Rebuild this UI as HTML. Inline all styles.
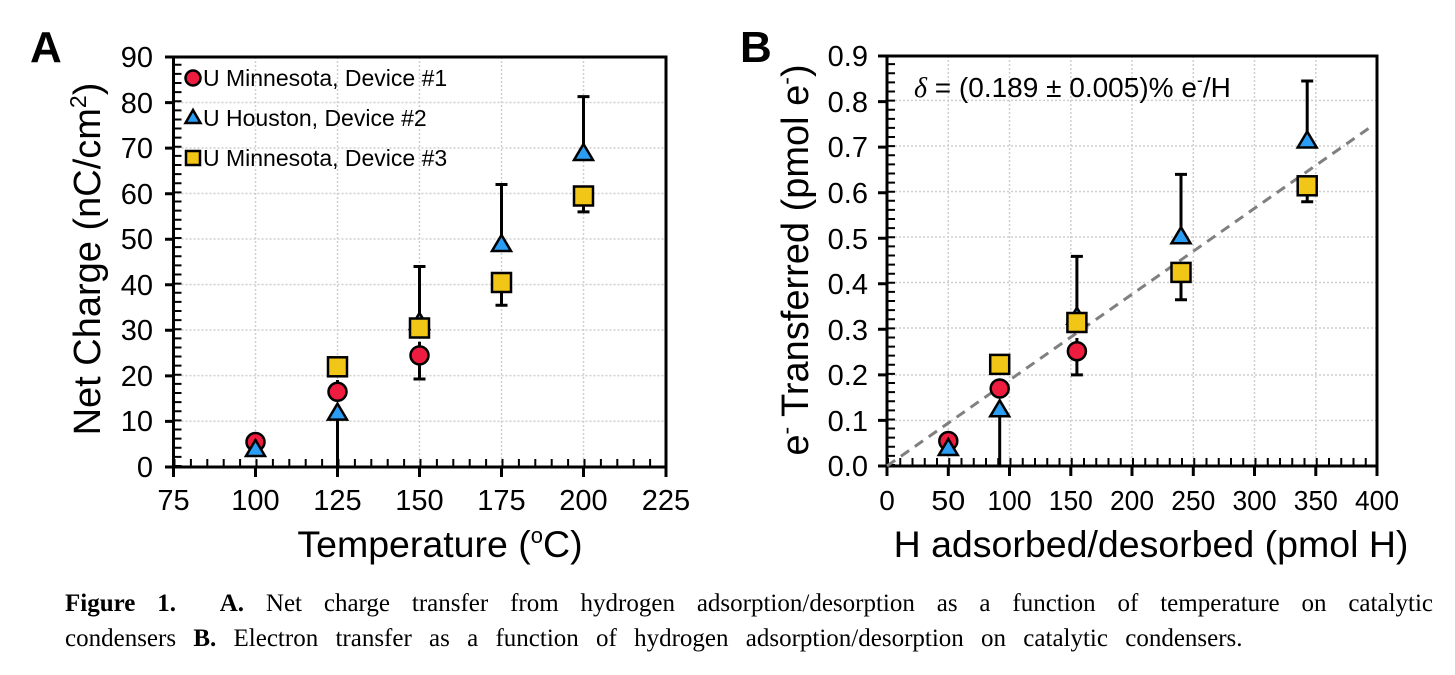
<!DOCTYPE html>
<html><head><meta charset="utf-8"><style>
body{margin:0;background:#fff;width:1455px;height:675px;overflow:hidden}
svg{position:absolute;left:0;top:0}
.cap{position:absolute;left:65px;width:1368px;font-family:"Liberation Serif",serif;font-size:25px;color:#000;white-space:nowrap}
.l1{top:590px;text-align:justify;text-align-last:justify;white-space:normal}
.l2{top:625px;word-spacing:11px}
</style></head><body>
<svg width="1455" height="675" font-family="Liberation Sans, sans-serif">
<g stroke="#cfcfcf" stroke-width="1.5" stroke-dasharray="2 2">
<path d="M255.5 57V467M337.5 57V467M419.5 57V467M501.5 57V467M583.5 57V467"/>
<path d="M173.5 102.5H666M173.5 148H666M173.5 193.5H666M173.5 239H666M173.5 284.5H666M173.5 330H666M173.5 375.6H666M173.5 421.2H666"/>
</g>
<g stroke="#000">
<rect x="173.5" y="57" width="492.5" height="410" fill="none" stroke-width="3"/>
<line x1="177.5" y1="467" x2="177.5" y2="57" stroke-width="8" stroke-dasharray="2 7.12"/>
<line x1="173.5" y1="463" x2="666" y2="463" stroke-width="8" stroke-dasharray="2 14.4"/>
<path stroke-width="3" d="M165 467H173.5M165 421.4H173.5M165 375.9H173.5M165 330.3H173.5M165 284.8H173.5M165 239.2H173.5M165 193.7H173.5M165 148.1H173.5M165 102.6H173.5M165 57H173.5"/>
<path stroke-width="3" d="M173.5 467V477M255.5 467V477M337.5 467V477M419.5 467V477M501.5 467V477M583.5 467V477M666 467V477"/>
</g>
<g font-size="29" text-anchor="end">
<text x="153" y="477">0</text><text x="153" y="431">10</text><text x="153" y="386">20</text><text x="153" y="340">30</text><text x="153" y="295">40</text><text x="153" y="249">50</text><text x="153" y="204">60</text><text x="153" y="158">70</text><text x="153" y="113">80</text><text x="153" y="67">90</text>
</g>
<g font-size="29" text-anchor="middle">
<text x="173.5" y="510">75</text><text x="255.5" y="510">100</text><text x="337.5" y="510">125</text><text x="419.5" y="510">150</text><text x="501.5" y="510">175</text><text x="583.5" y="510">200</text><text x="666" y="510">225</text>
</g>
<text x="440" y="557" font-size="37.5" text-anchor="middle">Temperature (<tspan font-size="22" dy="-14">o</tspan><tspan dy="14">C)</tspan></text>
<text transform="translate(100,259) rotate(-90)" font-size="38" text-anchor="middle">Net Charge (nC/cm<tspan font-size="23" dy="-14">2</tspan><tspan dy="14">)</tspan></text>
<text x="30" y="62" font-size="44" font-weight="bold">A</text>
<g stroke="#000" stroke-width="3">
<path d="M419.5 379V341.7M413.5 379H425.5"/>
<path d="M337.5 414.6V467"/>
<path d="M419.5 321V266.5M413.5 266.5H425.5"/>
<path d="M501.5 246V184.5M495.5 184.5H507.5"/>
<path d="M583.5 155V96.6M577.5 96.6H589.5"/>
<path d="M501.5 282.5V305.3M495.5 305.3H507.5"/>
<path d="M583.5 196V211.9M577.5 211.9H589.5"/>
<path d="M337.5 392V380"/>
</g>
<g stroke="#000" stroke-width="2.5">
<g fill="#ee1c3e"><circle cx="255.5" cy="442" r="9"/><circle cx="337.5" cy="391.8" r="9"/><circle cx="419.5" cy="355.4" r="9"/></g>
<g fill="#2a9df4">
<path d="M255.5 440l9.5 16h-19z"/><path d="M337.5 403.6l9.5 16h-19z"/><path d="M419.5 313l9.5 16h-19z"/><path d="M501.5 235l9.5 16h-19z"/><path d="M583.5 144l9.5 16h-19z"/>
</g>
<g fill="#f2c617">
<rect x="328" y="357.3" width="19" height="19"/><rect x="410" y="318.5" width="19" height="19"/><rect x="492" y="273" width="19" height="19"/><rect x="574" y="186.5" width="19" height="19"/>
</g>
<circle cx="193" cy="78" r="7.5" fill="#ee1c3e"/>
<path d="M193 110l7.5 13h-15z" fill="#2a9df4"/>
<rect x="186" y="151" width="14" height="14" fill="#f2c617"/>
</g>
<g font-size="23">
<text x="203" y="86">U Minnesota, Device #1</text>
<text x="203" y="126">U Houston, Device #2</text>
<text x="203" y="166">U Minnesota, Device #3</text>
</g>

<g stroke="#cfcfcf" stroke-width="1.5" stroke-dasharray="2 2">
<path d="M948.3 56V466M1009.5 56V466M1070.8 56V466M1132 56V466M1193.3 56V466M1254.5 56V466M1315.8 56V466"/>
<path d="M887 100.4H1377M887 146H1377M887 191.5H1377M887 237H1377M887 282.5H1377M887 328H1377M887 375H1377M887 420.4H1377"/>
</g>
<g stroke="#000">
<rect x="887" y="56" width="490" height="410" fill="none" stroke-width="3"/>
<line x1="891" y1="466" x2="891" y2="56" stroke-width="8" stroke-dasharray="2 7.11"/>
<line x1="887" y1="462" x2="1377" y2="462" stroke-width="8" stroke-dasharray="2 10.25"/>
<path stroke-width="3" d="M878 466H887M878 420.4H887M878 374.9H887M878 329.3H887M878 283.8H887M878 238.2H887M878 192.7H887M878 147.1H887M878 101.6H887M878 56H887"/>
<path stroke-width="3" d="M887 466V476M948.3 466V476M1009.5 466V476M1070.8 466V476M1132 466V476M1193.3 466V476M1254.5 466V476M1315.8 466V476M1377 466V476"/>
</g>
<g font-size="29" text-anchor="end">
<text x="868" y="476">0.0</text><text x="868" y="431">0.1</text><text x="868" y="385">0.2</text><text x="868" y="340">0.3</text><text x="868" y="294">0.4</text><text x="868" y="249">0.5</text><text x="868" y="203">0.6</text><text x="868" y="157">0.7</text><text x="868" y="112">0.8</text><text x="868" y="66">0.9</text>
</g>
<g font-size="28" text-anchor="middle">
<text x="887" y="510">0</text><text x="948.3" y="510" textLength="34" lengthAdjust="spacingAndGlyphs">50</text><text x="1009.5" y="510" textLength="44" lengthAdjust="spacingAndGlyphs">100</text><text x="1070.8" y="510" textLength="44" lengthAdjust="spacingAndGlyphs">150</text><text x="1132" y="510" textLength="44" lengthAdjust="spacingAndGlyphs">200</text><text x="1193.3" y="510" textLength="44" lengthAdjust="spacingAndGlyphs">250</text><text x="1254.5" y="510" textLength="44" lengthAdjust="spacingAndGlyphs">300</text><text x="1315.8" y="510" textLength="44" lengthAdjust="spacingAndGlyphs">350</text><text x="1377" y="510" textLength="44" lengthAdjust="spacingAndGlyphs">400</text>
</g>
<text x="1151" y="557" font-size="37.5" text-anchor="middle">H adsorbed/desorbed (pmol H)</text>
<text transform="translate(808,260) rotate(-90)" font-size="38" text-anchor="middle">e<tspan font-size="23" dy="-14">-</tspan><tspan dy="14"> Transferred (pmol e</tspan><tspan font-size="23" dy="-14">-</tspan><tspan dy="14">)</tspan></text>
<text x="740" y="62" font-size="44" font-weight="bold">B</text>
<text x="914" y="97" font-size="28"><tspan font-style="italic" font-family="Liberation Serif, serif">δ</tspan> = (0.189 ± 0.005)% e<tspan font-size="18" dy="-11">-</tspan><tspan dy="11">/H</tspan></text>
<line x1="887" y1="466" x2="1372" y2="126" stroke="#808080" stroke-width="3" stroke-dasharray="10 7"/>
<g stroke="#000" stroke-width="3">
<path d="M1076.9 374.9V338M1070.9 374.9H1082.9"/>
<path d="M999.7 411.3V466"/>
<path d="M1076.9 315.7V256.4M1070.9 256.4H1082.9"/>
<path d="M1181 238.2V174.4M1175 174.4H1187"/>
<path d="M1307.2 142.5V81M1301.2 81H1313.2"/>
<path d="M1181 272.4V299.7M1175 299.7H1187"/>
<path d="M1307.2 185.8V201.8M1301.2 201.8H1313.2"/>
</g>
<g stroke="#000" stroke-width="2.5">
<g fill="#ee1c3e"><circle cx="948.3" cy="441" r="9"/><circle cx="999.7" cy="388.5" r="9"/><circle cx="1076.9" cy="351.2" r="9"/></g>
<g fill="#2a9df4">
<path d="M948.3 439l9.5 16h-19z"/><path d="M999.7 400.3l9.5 16h-19z"/><path d="M1076.9 307.7l9.5 16h-19z"/><path d="M1181 227.2l9.5 16h-19z"/><path d="M1307.2 131.5l9.5 16h-19z"/>
</g>
<g fill="#f2c617">
<rect x="990.2" y="354.9" width="19" height="19"/><rect x="1067.4" y="313" width="19" height="19"/><rect x="1171.5" y="262.9" width="19" height="19"/><rect x="1297.7" y="176.3" width="19" height="19"/>
</g>
</g>
</svg>
<div class="cap l1"><b>Figure 1.</b>&nbsp; <b>A.</b> Net charge transfer from hydrogen adsorption/desorption as a function of temperature on catalytic</div>
<div class="cap l2">condensers <b>B.</b> Electron transfer as a function of hydrogen adsorption/desorption on catalytic condensers.</div>
</body></html>
